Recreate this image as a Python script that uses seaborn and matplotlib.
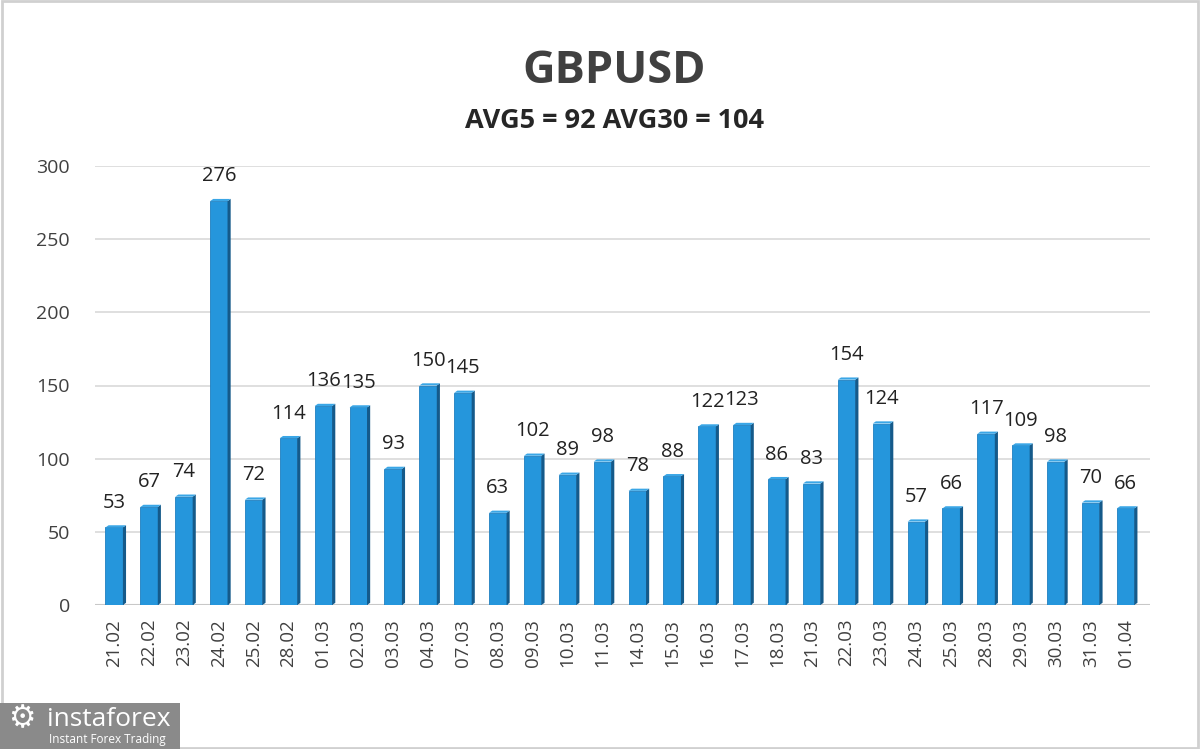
import matplotlib
matplotlib.use("Agg")
import matplotlib.pyplot as plt
from matplotlib.patches import Rectangle, Polygon
import seaborn as sns
import pandas as pd

dates = ["21.02", "22.02", "23.02", "24.02", "25.02", "28.02", "01.03", "02.03", "03.03", "04.03",
         "07.03", "08.03", "09.03", "10.03", "11.03", "14.03", "15.03", "16.03", "17.03", "18.03",
         "21.03", "22.03", "23.03", "24.03", "25.03", "28.03", "29.03", "30.03", "31.03", "01.04"]
values = [53, 67, 74, 276, 72, 114, 136, 135, 93, 150,
          145, 63, 102, 89, 98, 78, 88, 122, 123, 86,
          83, 154, 124, 57, 66, 117, 109, 98, 70, 66]
title = "GBPUSD"
subtitle = "AVG5 = 92 AVG30 = 104"

df = pd.DataFrame({"date": dates, "value": values})

sns.set_style("white")
plt.rcParams['font.family'] = ['Open Sans', 'DejaVu Sans']

fig = plt.figure(figsize=(12, 7.49), dpi=100)
ax = fig.add_axes([95 / 1200, (749 - 605) / 749, (1150 - 95) / 1200, (605 - 166) / 749])

sns.barplot(data=df, x="date", y="value", color="#2596dc", width=0.5,
            saturation=1, edgecolor="#1f7fc0", linewidth=0.6, ax=ax, zorder=3)

# fake 3d side face on each bar
for p in ax.patches:
    x0 = p.get_x() + p.get_width()
    h = p.get_height()
    d = 0.09
    side = Polygon([(x0, 0), (x0 + d, 1.5), (x0 + d, h + 1.5), (x0, h)],
                   closed=True, facecolor="#155a8a", edgecolor="none", zorder=3)
    ax.add_patch(side)
    top = Polygon([(p.get_x(), h), (p.get_x() + d, h + 1.5), (x0 + d, h + 1.5), (x0, h)],
                  closed=True, facecolor="#3aa6e6", edgecolor="none", zorder=3)
    ax.add_patch(top)

for i, v in enumerate(values):
    ax.text(i, v + 10, str(v), ha="center", va="bottom", fontsize=14.5, color="#222222")

ax.set_ylim(0, 300)
ax.set_xlim(-0.55, 29.7)
ax.set_yticks(range(0, 301, 50))
ax.yaxis.grid(True, color="#d9d9d9", linewidth=1.2, zorder=0)
ax.set_axisbelow(True)
for s in ax.spines.values():
    s.set_visible(False)
ax.axhline(0, color="#c8c8c8", linewidth=1.5, zorder=1)
ax.set_xlabel("")
ax.set_ylabel("")
ax.tick_params(axis="y", labelsize=14, colors="#404040", length=0, pad=18)
ax.tick_params(axis="x", labelsize=13.5, colors="#404040", length=0, pad=10, labelrotation=90)

fig.text(0.512, 0.904, title, ha="center", va="center", fontsize=32.5, fontweight="bold", color="#404040")
fig.text(0.512, 0.838, subtitle, ha="center", va="center", fontsize=19.5, fontweight="bold", color="#262626")

# frame
fig.patches.append(Rectangle((0.002, 0.002), 0.996, 0.996, transform=fig.transFigure,
                             fill=False, edgecolor="#d0d0d0", linewidth=2))

# logo
fig.patches.append(Rectangle((0, 0), 180 / 1200, 46 / 749, transform=fig.transFigure,
                             facecolor="#8a8a8a", edgecolor="none"))
fig.text(8 / 1200, 30 / 749, "\u2699", fontsize=22, color="white", va="center", ha="left",
         family=["DejaVu Sans"])
fig.text(47 / 1200, 29 / 749, "instaforex", fontsize=19, color="white", va="center", ha="left")
fig.text(49 / 1200, 9 / 749, "Instant Forex Trading", fontsize=8.5, color="white", va="center", ha="left")

fig.savefig("out.png", dpi=100, facecolor="white")
